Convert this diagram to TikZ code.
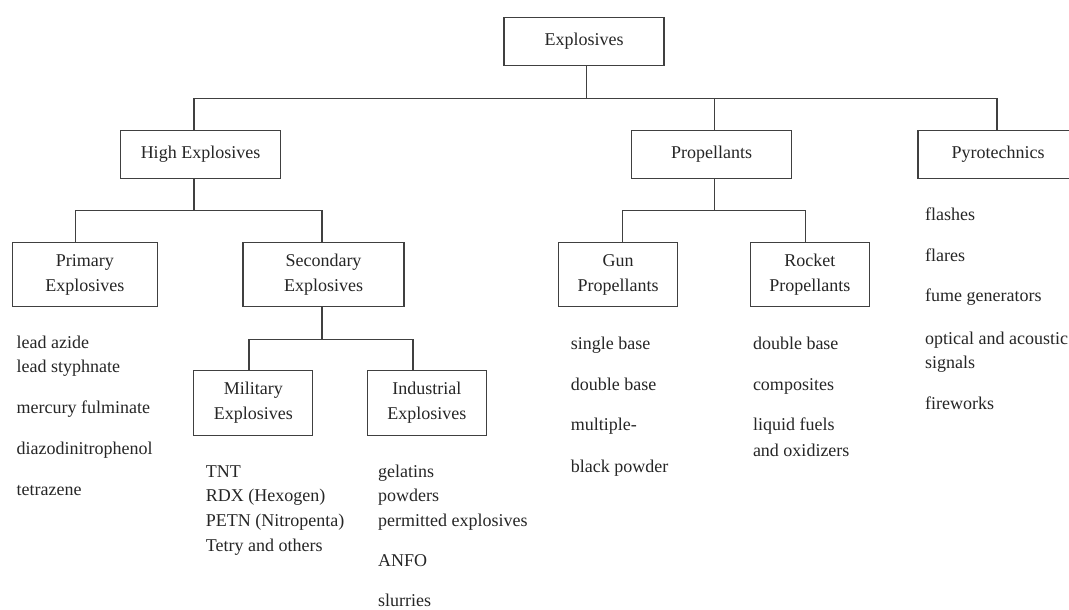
\documentclass[tikz,border=0pt]{standalone}
\usepackage{fontspec}
\setmainfont{Liberation Serif}
\usetikzlibrary{calc}
\newcommand{\fsz}{\fontsize{18}{25}\selectfont}
\tikzset{
  box/.style={draw=black!75, line width=1.1pt, inner sep=0pt, align=center, font=\fsz, text=black!85},
  item/.style={anchor=base west, inner sep=0pt, font=\fsz, text=black!85},
  link/.style={draw=black!75, line width=1.1pt}
}
\begin{document}
\begin{tikzpicture}[x=1pt,y=-1pt]
\useasboundingbox (0,0) rectangle (1069,610);
\clip (0,0) rectangle (1069,610);
\fill[white] (0,0) rectangle (1069,610);
% boxes
\node[box, minimum width=160, minimum height=48.4] (root) at (584,41.5) {Explosives};
\node[box, minimum width=160, minimum height=48.3] (he) at (200.5,154.2) {High Explosives};
\node[box, minimum width=159.5, minimum height=48.3] (prop) at (711.5,154.2) {Propellants};
\node[box, minimum width=160, minimum height=48.3] (pyro) at (998,154.2) {Pyrotechnics};
\node[box, minimum width=145.7, minimum height=64.4] (prim) at (84.9,274.5) {Primary\\Explosives};
\node[box, minimum width=161, minimum height=64.4] (sec) at (323.5,274.5) {Secondary\\Explosives};
\node[box, minimum width=119.3, minimum height=64.4] (gun) at (618,274.5) {Gun\\Propellants};
\node[box, minimum width=119, minimum height=64.4] (rock) at (809.9,274.5) {Rocket\\Propellants};
\node[box, minimum width=118.8, minimum height=64.3] (mil) at (253.3,402.9) {Military\\Explosives};
\node[box, minimum width=118.8, minimum height=64.3] (ind) at (426.8,402.9) {Industrial\\Explosives};
% junctions
\coordinate (rj) at ($(root.south)+(2.7,32)$);
\coordinate (hj) at ($(he.south)+(-6.5,31.7)$);
\coordinate (pj) at ($(prop.south)+(2.8,31.7)$);
\coordinate (sj) at ($(sec.south)+(-1.5,32.3)$);
% connectors
\draw[link] ($(root.south)+(2.7,0)$) -- (rj);
\draw[link] (rj) -| ($(he.north)+(-6.5,0)$);
\draw[link] (rj) -| ($(prop.north)+(2.8,0)$);
\draw[link] (rj) -| ($(pyro.north)+(-1,0)$);
\draw[link] ($(he.south)+(-6.5,0)$) -- (hj);
\draw[link] (hj) -| ($(prim.north)+(-9.1,0)$);
\draw[link] (hj) -| ($(sec.north)+(-1.5,0)$);
\draw[link] ($(prop.south)+(2.8,0)$) -- (pj);
\draw[link] (pj) -| ($(gun.north)+(4.8,0)$);
\draw[link] (pj) -| ($(rock.north)+(-4.5,0)$);
\draw[link] ($(sec.south)+(-1.5,0)$) -- (sj);
\draw[link] (sj) -| ($(mil.north)+(-4.3,0)$);
\draw[link] (sj) -| ($(ind.north)+(-13.8,0)$);
% primary list
\node[item] (p1) at (16.5,348.5) {lead azide};
\node[item] (p2) at (16.5,372.5) {lead styphnate};
\node[item] (p3) at (16.5,413.5) {mercury fulminate};
\node[item] (p4) at (16.5,454.5) {diazodinitrophenol};
\node[item] (p5) at (16.5,495.5) {tetrazene};
% military list
\node[item] (m1) at (205.6,477.5) {TNT};
\node[item] (m2) at (205.6,501.5) {RDX (Hexogen)};
\node[item] (m3) at (205.6,526.5) {PETN (Nitropenta)};
\node[item] (m4) at (205.6,551) {Tetry and others};
% industrial list
\node[item] (i1) at (378,477.5) {gelatins};
\node[item] (i2) at (378,501.5) {powders};
\node[item] (i3) at (378,526.5) {permitted explosives};
\node[item] (i4) at (378,566.5) {ANFO};
\node[item] (i5) at (378,606) {slurries};
% gun list
\node[item] (g1) at (570.6,349) {single base};
\node[item] (g2) at (570.6,390.5) {double base};
\node[item] (g3) at (570.6,430.5) {multiple-};
\node[item] (g4) at (570.6,472) {black powder};
% rocket list
\node[item] (r1) at (752.8,349) {double base};
\node[item] (r2) at (752.8,390.5) {composites};
\node[item] (r3) at (752.8,430.5) {liquid fuels};
\node[item] (r4) at (752.8,456) {and oxidizers};
% pyro list
\node[item] (y1) at (925,220) {flashes};
\node[item] (y2) at (925,261.5) {flares};
\node[item] (y3) at (925,301.5) {fume generators};
\node[item] (y4) at (925,344) {optical and acoustic};
\node[item] (y5) at (925,368) {signals};
\node[item] (y6) at (925,409) {fireworks};
\end{tikzpicture}
\end{document}
